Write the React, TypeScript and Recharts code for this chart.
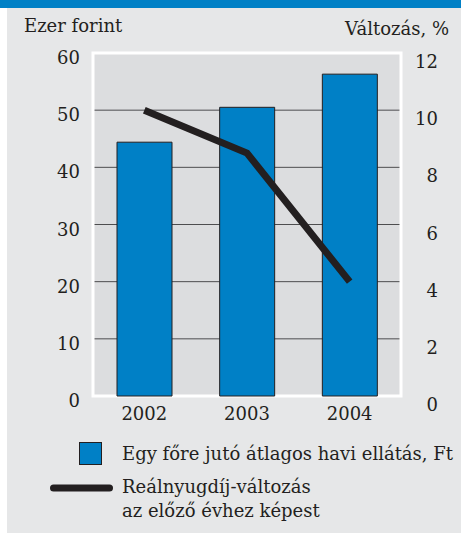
import { ComposedChart, Bar, Line, XAxis, YAxis, CartesianGrid, Legend, ReferenceArea } from 'recharts';

const years = ['2002', '2003', '2004'];
const benefit = [44.4, 50.5, 56.3];
const realChange = [10.0, 8.5, 4.0];
const leftTicks = [0, 10, 20, 30, 40, 50, 60];
const rightTicks = [0, 2, 4, 6, 8, 10, 12];

const data = years.map((year, i) => ({ year, benefit: benefit[i], change: realChange[i] }));

const FONT = '"DejaVu Serif", serif';
const INK = '#231f20';
const BLUE = '#0080c6';
const FS = 18;

const LeftTick = ({ x, y, payload }: any) => (
  <text x={x} y={y} dy={11} textAnchor="end" fill={INK} fontFamily={FONT} fontSize={FS}>
    {payload.value}
  </text>
);

const RightTick = ({ x, y, payload }: any) => (
  <text x={x} y={y} dy={15} textAnchor="end" fill={INK} fontFamily={FONT} fontSize={FS}>
    {payload.value}
  </text>
);

const YearTick = ({ x, y, payload }: any) => (
  <text x={x} y={y} dy={14} textAnchor="middle" fill={INK} fontFamily={FONT} fontSize={FS}>
    {payload.value}
  </text>
);

// legend is drawn by hand, its box is 100px high
const LegendBox = () => (
  <svg width={461} height={100} style={{ display: 'block' }}>
    <rect x={79.5} y={12.5} width={22} height={22} fill={BLUE} stroke={INK} strokeWidth={1} />
    <text x={122} y={30} fill={INK} fontFamily={FONT} fontSize={FS}>
      Egy főre jutó átlagos havi ellátás, Ft
    </text>
    <line x1={53.5} y1={58} x2={109.5} y2={58} stroke={INK} strokeWidth={7} strokeLinecap="round" />
    <text x={122} y={63} fill={INK} fontFamily={FONT} fontSize={FS}>
      Reálnyugdíj-változás
    </text>
    <text x={122} y={87} fill={INK} fontFamily={FONT} fontSize={FS}>
      az előző évhez képest
    </text>
  </svg>
);

export default function App() {
  return (
    <div style={{ position: 'absolute', left: 0, top: 0, width: 461, height: 533, background: '#fff' }}>
      <div style={{ position: 'absolute', left: 0, top: 0, width: 461, height: 8, background: BLUE }} />
      <div style={{ position: 'absolute', left: 7, top: 8, width: 454, height: 525, background: '#e6e7e8' }} />
      <svg width={461} height={50} style={{ position: 'absolute', left: 0, top: 0 }}>
        <text x={24} y={32} fill={INK} fontFamily={FONT} fontSize={FS}>Ezer forint</text>
        <text x={449} y={35} textAnchor="end" fill={INK} fontFamily={FONT} fontSize={FS}>Változás, %</text>
      </svg>
      <div style={{ position: 'absolute', left: 0, top: 0 }}>
        <ComposedChart width={461} height={533} data={data} margin={{ top: 53, right: 10, bottom: 7, left: 33 }}>
          <CartesianGrid yAxisId="left" vertical={false} horizontal stroke="#4d4d4f" strokeWidth={1} fill="#dcdddf" />
          <ReferenceArea yAxisId="left" y1={0} y2={60} fill="none" stroke="#ffffff" strokeWidth={3} />
          <XAxis dataKey="year" axisLine={false} tickLine={false} tickSize={0} tickMargin={10} height={30} tick={<YearTick />} />
          <YAxis
            yAxisId="left"
            domain={[0, 60]}
            ticks={leftTicks}
            width={60}
            axisLine={false}
            tickLine={false}
            tickSize={0}
            tickMargin={13}
            tick={<LeftTick />}
          />
          <YAxis
            yAxisId="right"
            orientation="right"
            domain={[0, 12]}
            ticks={rightTicks}
            width={50}
            axisLine={false}
            tickLine={false}
            tickSize={0}
            tickMargin={37}
            tick={<RightTick />}
          />
          <Bar yAxisId="left" dataKey="benefit" fill={BLUE} stroke={INK} strokeWidth={1} barSize={55} isAnimationActive={false} />
          <Line
            yAxisId="right"
            dataKey="change"
            type="linear"
            stroke={INK}
            strokeWidth={7}
            strokeLinecap="butt"
            dot={false}
            activeDot={false}
            isAnimationActive={false}
          />
          <Legend content={<LegendBox />} wrapperStyle={{ position: 'absolute', left: 0, top: 430, width: 461 }} />
        </ComposedChart>
      </div>
    </div>
  );
}
